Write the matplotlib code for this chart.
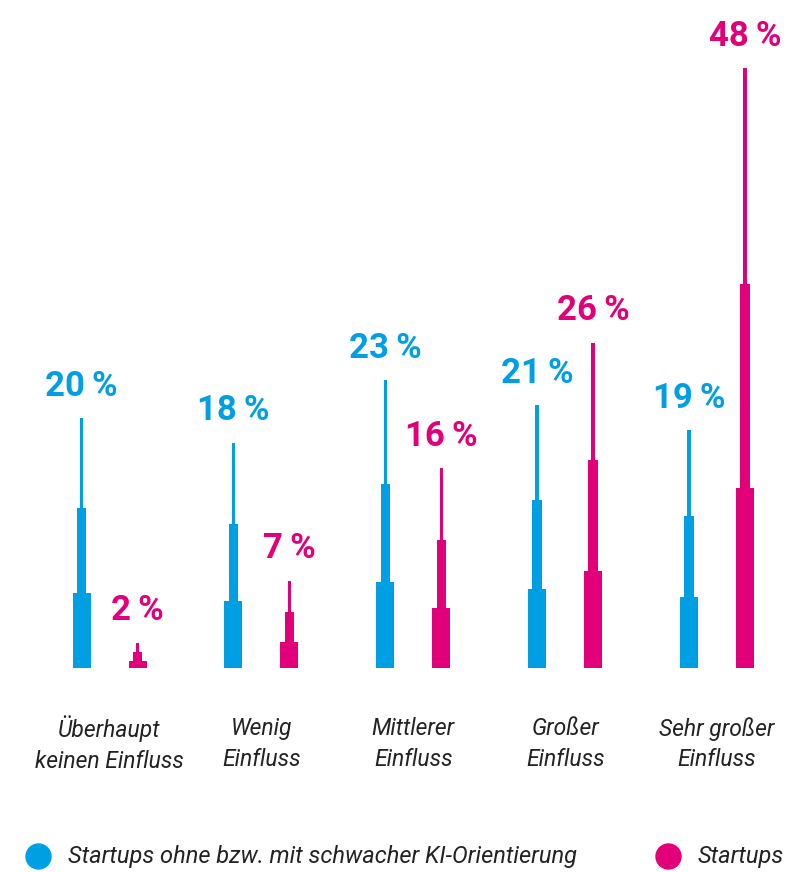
import matplotlib
matplotlib.use("Agg")
import matplotlib.pyplot as plt
import matplotlib.transforms as mtransforms
import numpy as np

# categories and shares (%)
categories = ["Überhaupt\nkeinen Einfluss", "Wenig\nEinfluss", "Mittlerer\nEinfluss",
              "Großer\nEinfluss", "Sehr großer\nEinfluss"]
weak_ki = [20, 18, 23, 21, 19]
startups = [2, 7, 16, 26, 48]
legend_labels = ["Startups ohne bzw. mit schwacher KI-Orientierung", "Startups"]

BLUE = "#009FE3"
PINK = "#E2007A"
TEXT = "#222222"

W, H = 792, 872
fig = plt.figure(figsize=(W / 100, H / 100), dpi=100)
base_px = 668
px_per_pct = 12.5
ax = fig.add_axes([0, (H - base_px) / H, 1, base_px / H])
ax.set_ylim(0, base_px / px_per_pct)
spacing = 151.9
ax.set_xlim(-109.5 / spacing, (W - 109.5) / spacing)
ax.axis("off")

off = 28 / spacing
# stepped bars: thick base, medium middle, thin top
steps = [(0.0, 0.30, 18), (0.30, 0.64, 9.5), (0.64, 1.0, 3.5)]

x = np.arange(len(categories))
for xs, vals, col in [(x - off, weak_ki, BLUE), (x + off, startups, PINK)]:
    vals = np.array(vals, dtype=float)
    for lo, hi, wpx in steps:
        ax.bar(xs, vals * (hi - lo), bottom=vals * lo, width=wpx / spacing,
               color=col, linewidth=0)
    for xi, v in zip(xs, vals):
        ax.text(xi, v + 1.8, f"{v:.0f}\u2009%", ha="center", va="baseline",
                fontsize=25, fontweight="bold", color=col,
                family=["Roboto", "DejaVu Sans"])

# category labels below the baseline
trans = mtransforms.blended_transform_factory(ax.transData, fig.transFigure)
for xi, c in zip(x, categories):
    ax.text(xi, (H - 744) / H, c, transform=trans, ha="center", va="center",
            fontsize=16.5, style="italic", color=TEXT, family="Roboto",
            linespacing=1.4)

# legend
for xp, lab, col in [(38, legend_labels[0], BLUE), (668, legend_labels[1], PINK)]:
    fig.add_artist(plt.Line2D([xp / W], [(H - 856) / H], marker="o", markersize=18,
                              color=col, linestyle="none", transform=fig.transFigure))
    fig.text((xp + 30) / W, (H - 856) / H, lab, ha="left", va="center",
             fontsize=17, style="italic", color=TEXT, family="Roboto")

fig.savefig("out.png", dpi=100)
